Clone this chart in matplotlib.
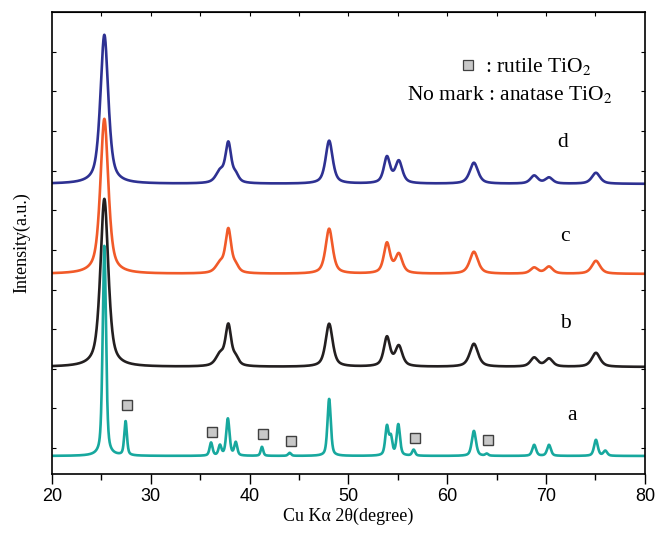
import numpy as np
import matplotlib.pyplot as plt

plt.rcParams['font.family'] = ['Liberation Serif', 'DejaVu Serif']
plt.rcParams['mathtext.fontset'] = 'stix'

# 衍射峰表: 峰位 2θ (degree), 峰高 (a.u.), 半高宽 (degree)
a_pos = [25.3, 27.45, 36.1, 37.0, 37.8, 38.6, 41.25, 44.05, 48.05, 53.9, 54.3, 55.05, 56.6, 62.7, 64.0, 68.8, 70.3, 75.05, 76.0]
a_height = [210, 34, 13, 10, 37, 13, 9, 3, 57, 29, 17, 31, 6, 25, 2, 11, 11, 16, 5]
a_fwhm = [0.4, 0.32, 0.35, 0.35, 0.4, 0.35, 0.3, 0.35, 0.4, 0.4, 0.35, 0.4, 0.35, 0.5, 0.35, 0.45, 0.45, 0.45, 0.45]

bcd_pos = [25.3, 37.0, 37.85, 38.6, 48.05, 53.9, 55.1, 62.7, 68.8, 70.3, 75.05]
bcd_fwhm = [0.95, 1.0, 0.7, 0.7, 0.85, 0.75, 0.85, 1.0, 0.9, 0.9, 1.0]
b_height = [168, 11, 40, 7, 43, 29, 20, 23, 9, 8, 14]
c_height = [155, 9, 43, 6, 45, 30, 19, 22, 6, 7, 13]
d_height = [149, 11, 39, 7, 43, 26, 22, 21, 8, 6, 11]

# 各曲线的纵向偏移 (a.u.)
offsets = {'a': 18, 'b': 107, 'c': 200, 'd': 290}
colors = {'a': '#17a89e', 'b': '#231f20', 'c': '#f15a29', 'd': '#2e3192'}

# 金红石相标记位置
rutile_x = [27.6, 36.2, 41.4, 44.2, 56.7, 64.1]
rutile_y = [69, 42, 40, 33, 36, 34]


def pattern(x, pos, height, fwhm, eta=0.65):
    """pseudo-Voigt 峰叠加"""
    y = np.zeros_like(x)
    for p, h, w in zip(pos, height, fwhm):
        hw = w / 2
        lor = 1 / (1 + ((x - p) / hw) ** 2)
        gau = np.exp(-np.log(2) * ((x - p) / hw) ** 2)
        y += h * (eta * lor + (1 - eta) * gau)
    return y


x = np.linspace(20, 80, 4000)
curves = {
    'a': pattern(x, a_pos, a_height, a_fwhm, eta=0.5),
    'b': pattern(x, bcd_pos, b_height, bcd_fwhm),
    'c': pattern(x, bcd_pos, c_height, bcd_fwhm),
    'd': pattern(x, bcd_pos, d_height, bcd_fwhm),
}

fig = plt.figure(figsize=(6.58, 5.38), dpi=100)
ax = fig.add_axes([0.079, 0.119, 0.901, 0.859])

for key in ['a', 'b', 'c', 'd']:
    ax.plot(x, curves[key] + offsets[key], color=colors[key], lw=1.9)

ax.plot(rutile_x, rutile_y, 's', ms=7, mfc='#c8c8c8', mec='#404040', mew=1.0, ls='none')

label_xy = {'a': (72.6, 58), 'b': (72.0, 150), 'c': (71.9, 237), 'd': (71.7, 331)}
for key, (lx, ly) in label_xy.items():
    ax.text(lx, ly, key, fontsize=15.5, ha='center', va='center')

# 图例说明
ax.plot([62.1], [409], 's', ms=6.5, mfc='#c8c8c8', mec='#404040', mew=0.9)
ax.text(63.8, 402, ': rutile TiO$_2$', fontsize=15.5, ha='left', va='baseline')
ax.text(55.9, 374, 'No mark : anatase TiO$_2$', fontsize=15.5, ha='left', va='baseline')

ax.set_xlim(20, 80)
ax.set_ylim(0, 462)
ax.set_xticks(np.arange(20, 81, 10))
ax.set_xticks(np.arange(25, 80, 10), minor=True)
ax.set_yticks(26 + 39.6 * np.arange(11))
ax.set_yticklabels([])
for lbl in ax.get_xticklabels():
    lbl.set_fontfamily('Liberation Sans')
    lbl.set_fontsize(13)

ax.tick_params(axis='x', which='major', direction='out', length=7, width=1.0, pad=3)
ax.tick_params(axis='x', which='minor', direction='out', length=4, width=1.0)
ax.tick_params(axis='y', which='major', direction='in', length=3, width=0.8, left=True, right=True)

top = ax.secondary_xaxis('top')
top.set_xticks(np.arange(25, 80, 5))
top.set_xticklabels([])
top.tick_params(direction='in', length=3, width=0.8)

for sp in ax.spines.values():
    sp.set_linewidth(1.2)

ax.set_xlabel('Cu K\u03b1 2\u03b8(degree)', fontsize=13, labelpad=2)
ax.set_ylabel('Intensity(a.u.)', fontsize=13, labelpad=12)

fig.savefig('out.png', dpi=100)
